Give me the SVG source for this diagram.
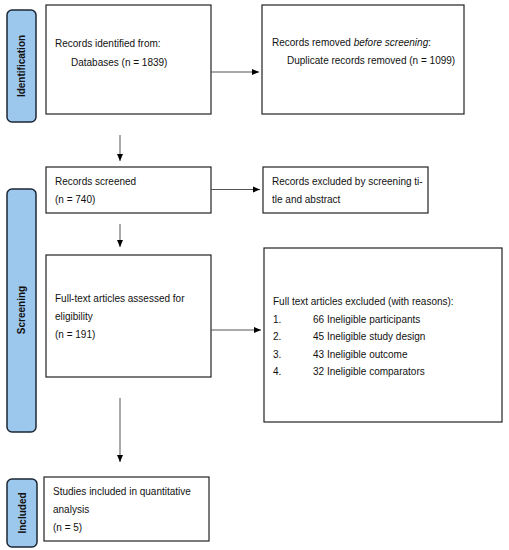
<svg xmlns="http://www.w3.org/2000/svg" width="509" height="550" viewBox="0 0 509 550">
<style>
.box{fill:#fff;stroke:#222;stroke-width:1.2}
.lab{fill:#9DC8EE;stroke:#1c2733;stroke-width:1.5}
.t{font-family:"Liberation Sans",Arial,sans-serif;font-size:10px;fill:#111}
.lt{font-family:"Liberation Sans",Arial,sans-serif;font-size:10px;font-weight:bold;fill:#111;text-anchor:middle}
.c{stroke:#555;stroke-width:1;fill:none;marker-end:url(#ah)}
</style>
<defs>
<marker id="ah" markerWidth="8" markerHeight="8" refX="7" refY="4" orient="auto" markerUnits="userSpaceOnUse">
<path d="M0,1 L7,4 L0,7 Z" fill="#000"/>
</marker>
</defs>
<rect width="509" height="550" fill="#fff"/>
<g id="phase-identification">
<rect class="lab" x="7" y="10" width="29" height="112" rx="5"/>
<text class="lt" transform="translate(25,66) rotate(-90)">Identification</text>
</g>
<g id="phase-screening">
<rect class="lab" x="7" y="189" width="29" height="243" rx="5"/>
<text class="lt" transform="translate(25,310) rotate(-90)">Screening</text>
</g>
<g id="phase-included">
<rect class="lab" x="7" y="479" width="30" height="68" rx="5"/>
<text class="lt" transform="translate(25.5,513) rotate(-90)">Included</text>
</g>
<g id="identified">
<rect class="box" x="46" y="5" width="165" height="109"/>
<text class="t" x="55" y="46.5">Records identified from:</text>
<text class="t" x="71" y="65.5">Databases (n = 1839)</text>
</g>
<g id="removed">
<rect class="box" x="262" y="5" width="202" height="109"/>
<text class="t" x="272" y="45.5">Records removed <tspan font-style="italic">before screening</tspan>:</text>
<text class="t" x="287" y="63.5">Duplicate records removed (n = 1099)</text>
</g>
<g id="screened">
<rect class="box" x="46" y="167" width="165" height="46"/>
<text class="t" x="55" y="184.5">Records screened</text>
<text class="t" x="55" y="202.5">(n = 740)</text>
</g>
<g id="excluded-title">
<rect class="box" x="263" y="167" width="165" height="46"/>
<text class="t" x="272" y="185">Records excluded by screening ti-</text>
<text class="t" x="272" y="202.5">tle and abstract</text>
</g>
<g id="fulltext">
<rect class="box" x="46" y="255" width="165" height="122"/>
<text class="t" x="55" y="302">Full-text articles assessed for</text>
<text class="t" x="55" y="320">eligibility</text>
<text class="t" x="55" y="338">(n = 191)</text>
</g>
<g id="excluded-fulltext">
<rect class="box" x="264" y="248" width="238" height="174"/>
<text class="t" x="273" y="305">Full text articles excluded (with reasons):</text>
<text class="t" x="273" y="322.5">1.</text><text class="t" x="313" y="322.5">66 Ineligible participants</text>
<text class="t" x="273" y="340">2.</text><text class="t" x="313" y="340">45 Ineligible study design</text>
<text class="t" x="273" y="357.5">3.</text><text class="t" x="313" y="357.5">43 Ineligible outcome</text>
<text class="t" x="273" y="375">4.</text><text class="t" x="313" y="375">32 Ineligible comparators</text>
</g>
<g id="included">
<rect class="box" x="44" y="477" width="165" height="64"/>
<text class="t" x="53" y="494.5">Studies included in quantitative</text>
<text class="t" x="53" y="512.5">analysis</text>
<text class="t" x="53" y="530.5">(n = 5)</text>
</g>
<g id="connectors">
<line class="c" x1="211" y1="72" x2="259" y2="72"/>
<line class="c" x1="120" y1="135" x2="120" y2="161"/>
<line class="c" x1="211" y1="189.5" x2="260" y2="189.5"/>
<line class="c" x1="120" y1="224" x2="120" y2="247"/>
<line class="c" x1="211" y1="330" x2="261" y2="330"/>
<line class="c" x1="120" y1="398" x2="120" y2="462"/>
</g>
</svg>
